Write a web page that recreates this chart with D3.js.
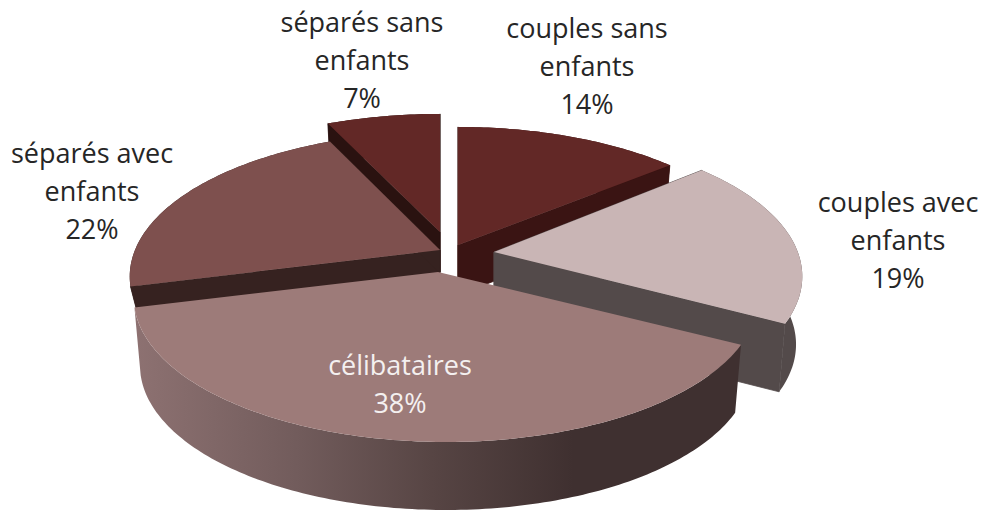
<!DOCTYPE html>
<html>
<head>
<meta charset="utf-8">
<script src="https://cdn.jsdelivr.net/npm/d3@7"></script>
<style>
  html, body { margin: 0; background: #fff; }
  svg { display: block; }
  text { font-family: "Open Sans", "Noto Sans", sans-serif; font-size: 27px; text-anchor: middle; }
</style>
</head>
<body>
<div id="chart"></div>
<script>
const categories = ["couples sans enfants", "couples avec enfants", "célibataires", "séparés avec enfants", "séparés sans enfants"];
const shares = [14, 19, 38, 22, 7];

// how the label of each slice wraps
const labelLines = [["couples sans", "enfants"], ["couples avec", "enfants"], ["célibataires"], ["séparés avec", "enfants"], ["séparés sans", "enfants"]];

const width = 987, height = 511;
const rx = 307, ry = 139.7, persp = 0.183;
const bottomShrink = 0.98;

// tip of each exploded slice on the page, and the centre its rim is drawn around
const apex = [[458, 245], [494, 252], [438, 272], [440, 250], [440, 232]];
const hub = [[458, 245], [490, 250], [446, 271], [442, 250], [440, 232]];
// back slices only need as much wall as shows above the next slice
const wallDepth = [50, 68, 68, 24, 40];
const topColor = ["#622826", "#c9b5b5", "#9d7b79", "#7e504e", "#622826"];
const faceColor = ["#3a1413", "#534a4a", "#3f3030", "#362220", "#2a1210"];
const labelPos = [[587, 38], [898, 212], [400, 375], [92, 163], [362, 32]];
const labelColor = ["#262626", "#262626", "#f4f0f0", "#262626", "#262626"];
const drawOrder = [4, 0, 3, 1, 2];

const svg = d3.select("#chart").append("svg")
  .attr("width", width)
  .attr("height", height);

const defs = svg.append("defs");
const wallGradient = defs.append("linearGradient")
  .attr("id", "frontWall")
  .attr("gradientUnits", "userSpaceOnUse")
  .attr("x1", 130).attr("x2", 745).attr("y1", 0).attr("y2", 0);
wallGradient.selectAll("stop")
  .data([[0, "#8e7272"], [0.27, "#725c5c"], [0.49, "#574544"], [0.72, "#3f3030"], [1, "#3f3030"]])
  .enter().append("stop")
  .attr("offset", d => d[0])
  .attr("stop-color", d => d[1]);

const wallFill = i => i === 2 ? "url(#frontWall)" : faceColor[i];

const slices = d3.pie().sort(null)(shares);

// angle is clockwise from 12 o'clock, the disk is seen in perspective
const project = (i, a, bottom) => {
  const X = Math.sin(a), Y = -Math.cos(a);
  const s = 1 / (1 - persp * Y);
  const k = bottom ? bottomShrink : 1;
  return [hub[i][0] + X * rx * s * k, hub[i][1] + Y * ry * s + (bottom ? wallDepth[i] : 0)];
};

const arcPoints = (i, d, bottom) => {
  const n = Math.ceil((d.endAngle - d.startAngle) * 60);
  return d3.range(n + 1).map(j => project(i, d.startAngle + (d.endAngle - d.startAngle) * j / n, bottom));
};

const line = d3.line();
const chart = svg.append("g");

drawOrder.forEach(i => {
  const d = slices[i];
  const g = chart.append("g").attr("class", "slice");
  const top0 = apex[i];
  const bot0 = [top0[0], top0[1] + wallDepth[i]];

  // rounded outer wall
  const topArc = arcPoints(i, d, false);
  const botArc = arcPoints(i, d, true).reverse();
  g.append("path")
    .attr("d", line(topArc.concat(botArc)) + "Z")
    .attr("fill", wallFill(i));

  // cut faces, the front slice shows none of its own
  // thin stroke so no light seam shows where a face meets the wall
  if (i !== 2) {
    [d.startAngle, d.endAngle].forEach(a => {
      g.append("path")
        .attr("d", line([top0, project(i, a, false), project(i, a, true), bot0]) + "Z")
        .attr("fill", faceColor[i])
        .attr("stroke", faceColor[i])
        .attr("stroke-width", 0.8);
    });
  }

  // top
  g.append("path")
    .attr("d", line([top0].concat(topArc)) + "Z")
    .attr("fill", topColor[i]);
});

const labels = svg.append("g").selectAll("text")
  .data(categories)
  .enter().append("text")
  .attr("fill", (d, i) => labelColor[i])
  .attr("transform", (d, i) => `translate(${labelPos[i][0]},${labelPos[i][1]})`);

labels.each(function (d, i) {
  const rows = labelLines[i].concat(shares[i] + "%");
  d3.select(this).selectAll("tspan")
    .data(rows)
    .enter().append("tspan")
    .attr("x", 0)
    .attr("y", (r, j) => j * 38)
    .text(r => r);
});
</script>
</body>
</html>
